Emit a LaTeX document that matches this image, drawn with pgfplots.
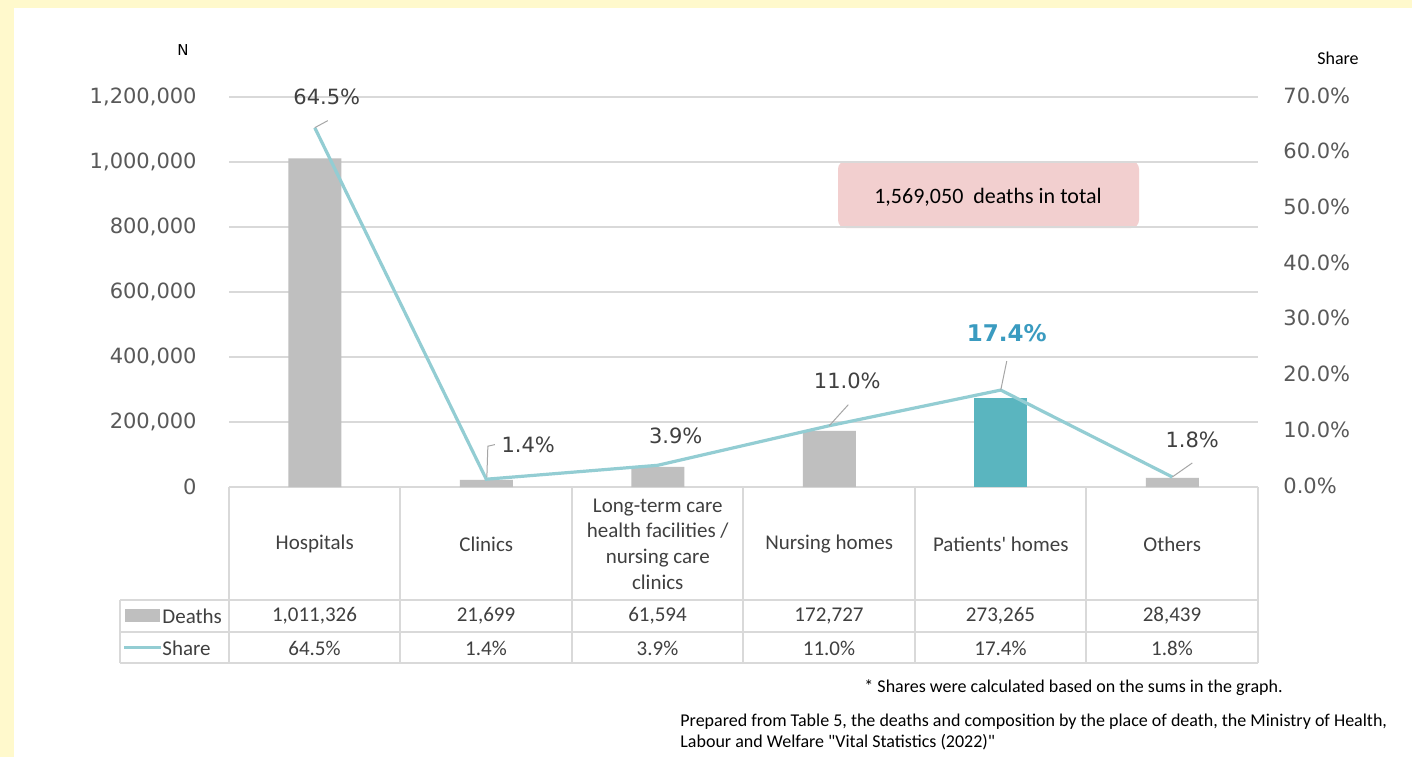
\documentclass[border=0pt]{standalone}
\usepackage{pgfplots}
\pgfplotsset{compat=1.18}
\usepackage{fontspec}
\setmainfont{Carlito}[Ligatures=TeXOff]
\newfontfamily\dejavu{DejaVu Sans}
\definecolor{yellowbg}{HTML}{FFF9CC}
\definecolor{gridgray}{HTML}{D9D9D9}
\definecolor{bargray}{HTML}{BFBFBF}
\definecolor{barteal}{HTML}{5AB5BF}
\definecolor{linecol}{HTML}{93CDD3}
\definecolor{labelteal}{HTML}{3A9BC0}
\definecolor{boxpink}{HTML}{F2CFCF}
\definecolor{ticktext}{HTML}{595959}
\definecolor{labeltext}{HTML}{404040}
\definecolor{leadergray}{HTML}{A6A6A6}
\tikzset{lbl/.style={font=\dejavu\fontsize{10.5}{12}\selectfont, text=labeltext, inner sep=0pt}}
\begin{document}
\begin{tikzpicture}[x=0.5pt,y=-0.5pt]
\fill[yellowbg] (0,0) rectangle (1412,757);
\fill[white] (14,8) rectangle (1412,757);
\coordinate (O) at (229,487);
% total box
\fill[boxpink, rounded corners=4pt] (838,161) rectangle (1139,228);
\node[font=\fontsize{11}{13}\selectfont, text=black] at (988,197) {1,569,050\ \ deaths in total};
% axis titles
\node[font=\dejavu\fontsize{7.5}{9}\selectfont, text=black] at (183,50) {N};
\node[font=\fontsize{9}{11}\selectfont, text=black] at (1338,58) {Share};

\begin{axis}[
  at={(O)}, anchor=south west,
  scale only axis, width=514.5pt, height=195pt,
  xmin=-0.5, xmax=5.5, ymin=0, ymax=1200000,
  axis line style={draw=none},
  major tick length=0pt,
  xtick={0,...,5},
  xticklabels={Hospitals, Clinics, {Long-term care\\health facilities /\\nursing care\\clinics}, Nursing homes, Patients' homes, Others},
  xticklabel style={font=\fontsize{10.5}{12.85}\selectfont, text=labeltext, align=center, anchor=center, yshift=-28.5pt, inner sep=0pt},
  ytick={0,200000,400000,600000,800000,1000000,1200000},
  yticklabels={0,{200,000},{400,000},{600,000},{800,000},{1,000,000},{1,200,000}},
  scaled y ticks=false,
  yticklabel style={font=\dejavu\fontsize{10.5}{12}\selectfont, text=ticktext, anchor=east, inner sep=0pt, xshift=-16pt},
  ymajorgrids, grid style={draw=gridgray, line width=0.75pt},
  ybar, bar width=26.5pt,
]
\addplot[fill=bargray, draw=none, bar shift=0pt] coordinates {(0,1011326) (1,21699) (2,61594) (3,172727) (5,28439)};
\addplot[fill=barteal, draw=none, bar shift=0pt] coordinates {(4,273265)};
\end{axis}

\begin{axis}[
  at={(O)}, anchor=south west,
  scale only axis, width=514.5pt, height=195pt,
  xmin=-0.5, xmax=5.5, ymin=0, ymax=70,
  hide x axis,
  axis y line*=right,
  axis line style={draw=none},
  major tick length=0pt,
  ytick={0,10,20,30,40,50,60,70},
  yticklabels={0.0\%,10.0\%,20.0\%,30.0\%,40.0\%,50.0\%,60.0\%,70.0\%},
  yticklabel style={font=\dejavu\fontsize{10.5}{12}\selectfont, text=ticktext, anchor=west, inner sep=0pt, xshift=12.5pt, yshift=0.8pt},
  clip=false,
]
\addplot[color=linecol, line width=1.6pt, mark=none] coordinates {(0,64.5) (1,1.4) (2,3.9) (3,11.0) (4,17.4) (5,1.8)};
% leaders
\draw[leadergray, line width=0.5pt] (axis cs:0,64.5) -- ++(6.5pt,3.5pt);
\draw[leadergray, line width=0.5pt] (axis cs:1,1.4) ++(0.3pt,1pt) -- ++(0.5pt,15.5pt) -- ++(3.5pt,0.8pt);
\draw[leadergray, line width=0.5pt] (axis cs:3,11.0) -- ++(9.5pt,10.5pt);
\draw[leadergray, line width=0.5pt] (axis cs:4,17.4) -- ++(3pt,14.5pt);
\draw[leadergray, line width=0.5pt] (axis cs:5,1.8) -- ++(10pt,7pt);
% labels
\node[lbl, xshift=6pt, yshift=15.5pt] at (axis cs:0,64.5) {64.5\%};
\node[lbl, xshift=21pt, yshift=17pt] at (axis cs:1,1.4) {1.4\%};
\node[lbl, xshift=9pt, yshift=14.5pt] at (axis cs:2,3.9) {3.9\%};
\node[lbl, xshift=9pt, yshift=22.5pt] at (axis cs:3,11.0) {11.0\%};
\node[lbl, xshift=3pt, yshift=28.5pt, font=\dejavu\bfseries\fontsize{11.5}{13}\selectfont, text=labelteal] at (axis cs:4,17.4) {17.4\%};
\node[lbl, xshift=10pt, yshift=18.5pt] at (axis cs:5,1.8) {1.8\%};
\end{axis}

% data table
\draw[gridgray, line width=0.75pt] (120,600) -- (1258,600) (120,632) -- (1258,632) (120,663) -- (1258,663) (120,600) -- (120,663);
\foreach \x in {229,400,572,743,915,1086,1258} {\draw[gridgray, line width=0.75pt] (\x,487) -- (\x,663);}
\fill[bargray] (125,609) rectangle (160,622);
\draw[linecol, line width=1.6pt] (124,647.5) -- (161,647.5);
\begin{scope}[every node/.style={font=\fontsize{10.5}{12}\selectfont, text=labeltext, inner sep=0pt}]
\node[anchor=west] at (162,616) {Deaths};
\node[anchor=west] at (162,648) {Share};
\node at (314.5,616) {1,011,326};
\node at (486,616) {21,699};
\node at (657.5,616) {61,594};
\node at (829,616) {172,727};
\node at (1000.5,616) {273,265};
\node at (1172,616) {28,439};
\node at (314.5,648) {64.5\%};
\node at (486,648) {1.4\%};
\node at (657.5,648) {3.9\%};
\node at (829,648) {11.0\%};
\node at (1000.5,648) {17.4\%};
\node at (1172,648) {1.8\%};
\end{scope}
% notes
\node[anchor=east, inner sep=0pt, font=\fontsize{9}{10}\selectfont, text=black] at (1283,688) {* Shares were calculated based on the sums in the graph.};
\node[anchor=west, inner sep=0pt, font=\fontsize{9}{10}\selectfont, text=black] at (680,722) {Prepared from Table 5, the deaths and composition by the place of death, the Ministry of Health,};
\node[anchor=west, inner sep=0pt, font=\fontsize{9}{10}\selectfont, text=black] at (680,742) {Labour and Welfare "Vital Statistics (2022)"};
\pgfresetboundingbox
\useasboundingbox (0,0) rectangle (1412,757);
\end{tikzpicture}
\end{document}
